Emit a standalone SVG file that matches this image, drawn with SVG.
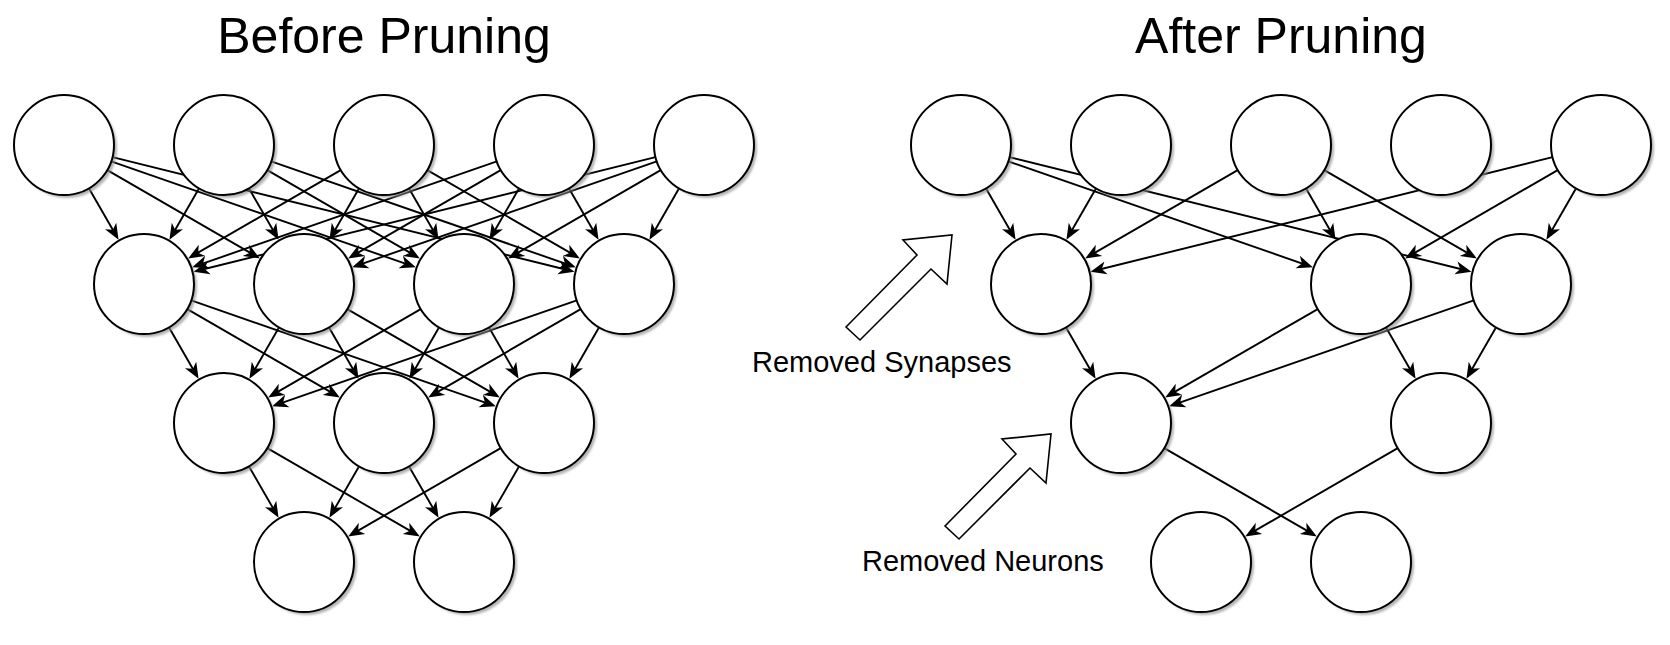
<svg xmlns="http://www.w3.org/2000/svg" width="1670" height="645" viewBox="0 0 1670 645">
<style>
.bg{fill:#ffffff}
.node{fill:#ffffff;stroke:#000000;stroke-width:2}
.shadow{fill:#8c8c8c;opacity:0.65;filter:url(#blur)}
.edge{stroke:#000000;stroke-width:1.9;fill:none;marker-end:url(#arr)}
.big{fill:#ffffff;stroke:#000000;stroke-width:1.6;stroke-linejoin:miter}
.title{font-family:"Liberation Sans",Arial,sans-serif;font-size:50px;fill:#000000;text-anchor:middle}
.label{font-family:"Liberation Sans",Arial,sans-serif;font-size:29px;fill:#000000}
</style>
<defs>
<filter id="blur" x="-20%" y="-20%" width="140%" height="140%"><feGaussianBlur stdDeviation="1.1"/></filter>
<marker id="arr" markerUnits="userSpaceOnUse" viewBox="0 0 22 16" markerWidth="22" markerHeight="16" refX="11" refY="8" orient="auto">
<path d="M0 1.5 L16 8 L0 14.5 L4.5 8 Z" fill="#000000"/>
</marker>
<polygon id="blockArrow" points="846,327 917,255 903,240 952,235 947,284 931,269 860,340"/>
</defs>
<rect class="bg" x="0" y="0" width="1670" height="645"/>

<g id="titles">
<text class="title" x="384" y="53">Before Pruning</text>
<text class="title" x="1281" y="53">After Pruning</text>
</g>

<g id="connectors">
<!-- left: row1 -> row2 -->
<line class="edge" x1="88.9" y1="188.3" x2="116.1" y2="235.5"/>
<line class="edge" x1="107.3" y1="170.1" x2="255.5" y2="255.9"/>
<line class="edge" x1="111.2" y1="161.4" x2="411.1" y2="265.6"/>
<line class="edge" x1="112.5" y1="157.1" x2="569.6" y2="270.5"/>
<line class="edge" x1="199.1" y1="188.3" x2="171.9" y2="235.5"/>
<line class="edge" x1="248.9" y1="188.3" x2="276.1" y2="235.5"/>
<line class="edge" x1="267.3" y1="170.1" x2="415.5" y2="255.9"/>
<line class="edge" x1="271.2" y1="161.4" x2="571.1" y2="265.6"/>
<line class="edge" x1="340.7" y1="170.1" x2="192.5" y2="255.9"/>
<line class="edge" x1="359.1" y1="188.3" x2="331.9" y2="235.5"/>
<line class="edge" x1="408.9" y1="188.3" x2="436.1" y2="235.5"/>
<line class="edge" x1="427.3" y1="170.1" x2="575.5" y2="255.9"/>
<line class="edge" x1="496.8" y1="161.4" x2="196.9" y2="265.6"/>
<line class="edge" x1="500.7" y1="170.1" x2="352.5" y2="255.9"/>
<line class="edge" x1="519.1" y1="188.3" x2="491.9" y2="235.5"/>
<line class="edge" x1="568.9" y1="188.3" x2="596.1" y2="235.5"/>
<line class="edge" x1="655.5" y1="157.1" x2="198.4" y2="270.5"/>
<line class="edge" x1="656.8" y1="161.4" x2="356.9" y2="265.6"/>
<line class="edge" x1="660.7" y1="170.1" x2="512.5" y2="255.9"/>
<line class="edge" x1="679.1" y1="188.3" x2="651.9" y2="235.5"/>
<!-- left: row2 -> row3 -->
<line class="edge" x1="168.9" y1="327.3" x2="196.1" y2="374.5"/>
<line class="edge" x1="187.3" y1="309.1" x2="335.5" y2="394.9"/>
<line class="edge" x1="191.2" y1="300.4" x2="491.1" y2="404.6"/>
<line class="edge" x1="279.1" y1="327.3" x2="251.9" y2="374.5"/>
<line class="edge" x1="328.9" y1="327.3" x2="356.1" y2="374.5"/>
<line class="edge" x1="347.3" y1="309.1" x2="495.5" y2="394.9"/>
<line class="edge" x1="420.7" y1="309.1" x2="272.5" y2="394.9"/>
<line class="edge" x1="439.1" y1="327.3" x2="411.9" y2="374.5"/>
<line class="edge" x1="488.9" y1="327.3" x2="516.1" y2="374.5"/>
<line class="edge" x1="576.8" y1="300.4" x2="276.9" y2="404.6"/>
<line class="edge" x1="580.7" y1="309.1" x2="432.5" y2="394.9"/>
<line class="edge" x1="599.1" y1="327.3" x2="571.9" y2="374.5"/>
<!-- left: row3 -> row4 -->
<line class="edge" x1="248.9" y1="466.3" x2="276.1" y2="513.5"/>
<line class="edge" x1="267.3" y1="448.1" x2="415.5" y2="533.9"/>
<line class="edge" x1="359.1" y1="466.3" x2="331.9" y2="513.5"/>
<line class="edge" x1="408.9" y1="466.3" x2="436.1" y2="513.5"/>
<line class="edge" x1="500.7" y1="448.1" x2="352.5" y2="533.9"/>
<line class="edge" x1="519.1" y1="466.3" x2="491.9" y2="513.5"/>
<!-- right: row1 -> row2 -->
<line class="edge" x1="985.9" y1="188.3" x2="1013.1" y2="235.5"/>
<line class="edge" x1="1008.2" y1="161.4" x2="1308.1" y2="265.6"/>
<line class="edge" x1="1009.5" y1="157.1" x2="1466.6" y2="270.5"/>
<line class="edge" x1="1096.1" y1="188.3" x2="1068.9" y2="235.5"/>
<line class="edge" x1="1237.7" y1="170.1" x2="1089.5" y2="255.9"/>
<line class="edge" x1="1305.9" y1="188.3" x2="1333.1" y2="235.5"/>
<line class="edge" x1="1324.3" y1="170.1" x2="1472.5" y2="255.9"/>
<line class="edge" x1="1552.5" y1="157.1" x2="1095.4" y2="270.5"/>
<line class="edge" x1="1557.7" y1="170.1" x2="1409.5" y2="255.9"/>
<line class="edge" x1="1576.1" y1="188.3" x2="1548.9" y2="235.5"/>
<!-- right: row2 -> row3 -->
<line class="edge" x1="1065.9" y1="327.3" x2="1093.1" y2="374.5"/>
<line class="edge" x1="1317.7" y1="309.1" x2="1169.5" y2="394.9"/>
<line class="edge" x1="1385.9" y1="327.3" x2="1413.1" y2="374.5"/>
<line class="edge" x1="1473.8" y1="300.4" x2="1173.9" y2="404.6"/>
<line class="edge" x1="1496.1" y1="327.3" x2="1468.9" y2="374.5"/>
<!-- right: row3 -> row4 -->
<line class="edge" x1="1164.3" y1="448.1" x2="1312.5" y2="533.9"/>
<line class="edge" x1="1397.7" y1="448.1" x2="1249.5" y2="533.9"/>
</g>

<!-- left network nodes -->
<g id="L-A1"><circle class="shadow" cx="67" cy="148" r="50"/><circle class="node" cx="64" cy="145" r="50"/></g>
<g id="L-A2"><circle class="shadow" cx="227" cy="148" r="50"/><circle class="node" cx="224" cy="145" r="50"/></g>
<g id="L-A3"><circle class="shadow" cx="387" cy="148" r="50"/><circle class="node" cx="384" cy="145" r="50"/></g>
<g id="L-A4"><circle class="shadow" cx="547" cy="148" r="50"/><circle class="node" cx="544" cy="145" r="50"/></g>
<g id="L-A5"><circle class="shadow" cx="707" cy="148" r="50"/><circle class="node" cx="704" cy="145" r="50"/></g>
<g id="L-B1"><circle class="shadow" cx="147" cy="287" r="50"/><circle class="node" cx="144" cy="284" r="50"/></g>
<g id="L-B2"><circle class="shadow" cx="307" cy="287" r="50"/><circle class="node" cx="304" cy="284" r="50"/></g>
<g id="L-B3"><circle class="shadow" cx="467" cy="287" r="50"/><circle class="node" cx="464" cy="284" r="50"/></g>
<g id="L-B4"><circle class="shadow" cx="627" cy="287" r="50"/><circle class="node" cx="624" cy="284" r="50"/></g>
<g id="L-C1"><circle class="shadow" cx="227" cy="426" r="50"/><circle class="node" cx="224" cy="423" r="50"/></g>
<g id="L-C2"><circle class="shadow" cx="387" cy="426" r="50"/><circle class="node" cx="384" cy="423" r="50"/></g>
<g id="L-C3"><circle class="shadow" cx="547" cy="426" r="50"/><circle class="node" cx="544" cy="423" r="50"/></g>
<g id="L-D1"><circle class="shadow" cx="307" cy="565" r="50"/><circle class="node" cx="304" cy="562" r="50"/></g>
<g id="L-D2"><circle class="shadow" cx="467" cy="565" r="50"/><circle class="node" cx="464" cy="562" r="50"/></g>

<!-- right network nodes -->
<g id="R-A1"><circle class="shadow" cx="964" cy="148" r="50"/><circle class="node" cx="961" cy="145" r="50"/></g>
<g id="R-A2"><circle class="shadow" cx="1124" cy="148" r="50"/><circle class="node" cx="1121" cy="145" r="50"/></g>
<g id="R-A3"><circle class="shadow" cx="1284" cy="148" r="50"/><circle class="node" cx="1281" cy="145" r="50"/></g>
<g id="R-A4"><circle class="shadow" cx="1444" cy="148" r="50"/><circle class="node" cx="1441" cy="145" r="50"/></g>
<g id="R-A5"><circle class="shadow" cx="1604" cy="148" r="50"/><circle class="node" cx="1601" cy="145" r="50"/></g>
<g id="R-B1"><circle class="shadow" cx="1044" cy="287" r="50"/><circle class="node" cx="1041" cy="284" r="50"/></g>
<g id="R-B3"><circle class="shadow" cx="1364" cy="287" r="50"/><circle class="node" cx="1361" cy="284" r="50"/></g>
<g id="R-B4"><circle class="shadow" cx="1524" cy="287" r="50"/><circle class="node" cx="1521" cy="284" r="50"/></g>
<g id="R-C1"><circle class="shadow" cx="1124" cy="426" r="50"/><circle class="node" cx="1121" cy="423" r="50"/></g>
<g id="R-C3"><circle class="shadow" cx="1444" cy="426" r="50"/><circle class="node" cx="1441" cy="423" r="50"/></g>
<g id="R-D1"><circle class="shadow" cx="1204" cy="565" r="50"/><circle class="node" cx="1201" cy="562" r="50"/></g>
<g id="R-D2"><circle class="shadow" cx="1364" cy="565" r="50"/><circle class="node" cx="1361" cy="562" r="50"/></g>

<!-- annotations -->
<g id="note-synapses">
<use href="#blockArrow" class="big"/>
<text class="label" x="752" y="372">Removed Synapses</text>
</g>
<g id="note-neurons">
<use href="#blockArrow" class="big" transform="translate(99,199)"/>
<text class="label" x="862" y="571">Removed Neurons</text>
</g>
</svg>
